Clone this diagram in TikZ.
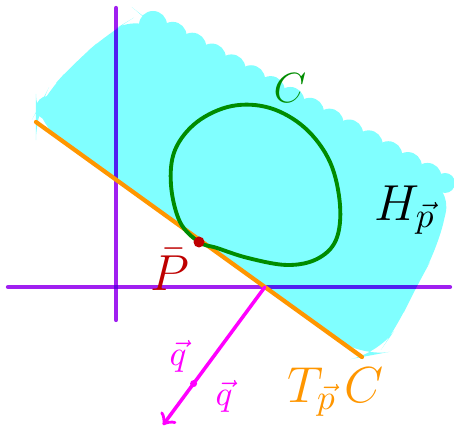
\documentclass[tikz,border=0pt]{standalone}
\usetikzlibrary{calc}
\definecolor{axisviolet}{RGB}{160,32,240}
\definecolor{halfcyan}{RGB}{128,255,255}
\definecolor{penorange}{RGB}{255,150,0}
\definecolor{pengreen}{RGB}{0,140,0}
\definecolor{penred}{RGB}{190,0,0}
\definecolor{penmagenta}{RGB}{255,0,255}
\begin{document}
\begin{tikzpicture}[x=0.01cm,y=-0.01cm,
    axis/.style={line width=1.2pt,color=axisviolet,line cap=round,blend mode=multiply},
    pen/.style={line width=1.1pt,line cap=round,line join=round}]
    \useasboundingbox (0,0) rectangle (454,431);
    % the half plane H_p, scribbled
    \fill[halfcyan,rounded corners=8] (36,122) -- (362,357) -- (378,354) -- (397,327)
        -- (416,287) -- (437,250) -- (452,186) -- (433,180) -- (153,25) -- (140,14)
        -- (110,32) -- (75,62) -- (45,95) -- (36,112) -- cycle;
    \foreach \t in {0,0.07,...,1.01}
        \fill[halfcyan] ($(153,25)!\t!(433,180)$) circle (14);
    \fill[halfcyan] (48,108) circle (12);
    \fill[halfcyan] (445,183) circle (10);
    % axes, seen through the cyan
    \draw[axis] (116,8) -- (116,320);
    \draw[axis] (8,287) -- (450,287);
    % tangent line
    \coordinate (tl) at (36,122);
    \coordinate (tr) at (362,357);
    \draw[pen,color=penorange,line width=1.2pt] (tl) -- (tr);
    \coordinate (T) at (intersection of tl--tr and 8,287--450,287);
    % the curve C
    \draw[pen,color=pengreen] plot[smooth cycle,tension=0.6] coordinates {(199,242) (180,222)
        (171,185) (175,150) (197,122) (232,106) (270,108) (305,128) (330,162) (340,205)
        (336,240) (317,259) (287,265) (248,258) (217,248)};
    \coordinate (P) at (199,242);
    \fill[penred] (P) circle (5.5);
    % normal direction
    \coordinate (qend) at (163,425);
    \draw[pen,color=penmagenta,line width=1pt,->] (T) -- (qend) coordinate[pos=0.7] (qmid);
    \fill[penmagenta] (qmid) circle (3.5);
    \node[color=pengreen] (Clab) at (290,88) {\large $C$};
    \node[color=black] (Hlab) at (405,210) {\Large $H_{\vec p}$};
    \node[color=penred] (Plab) at (170,270) {\Large $\bar P$};
    \node[color=penmagenta] (qup) at (178,356) {$\vec q$};
    \node[color=penmagenta] (qlow) at (224,396) {$\vec q$};
    \node[color=penorange] (TClab) at (336,392) {\Large $T_{\vec p}\,C$};
\end{tikzpicture}
\end{document}
